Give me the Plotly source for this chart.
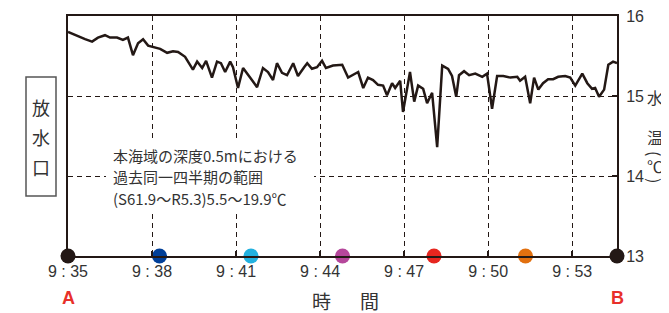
import plotly.graph_objects as go

# elapsed minutes from 9:35
minutes = [0, 0.32, 0.61, 0.86, 1.07, 1.32, 1.5, 1.75, 1.96, 2.14, 2.32, 2.5, 2.68, 2.86, 3.04,
           3.29, 3.54, 3.75, 3.93, 4.18, 4.46, 4.61, 4.79, 4.93, 5.14, 5.32, 5.46, 5.61, 5.79,
           5.89, 6.07, 6.25, 6.5, 6.75, 6.96, 7.14, 7.32, 7.46, 7.64, 7.82, 8.04, 8.21, 8.43,
           8.54, 8.71, 8.89, 9.07, 9.21, 9.46, 9.79, 10.0, 10.36, 10.54, 10.71, 10.89, 11.07,
           11.25, 11.39, 11.57, 11.68, 11.86, 11.96, 12.21, 12.36, 12.5, 12.68, 12.82, 13.0,
           13.18, 13.36, 13.57, 13.71, 13.86, 13.96, 14.14, 14.32, 14.54, 14.79, 14.96, 15.14,
           15.32, 15.54, 15.79, 16.04, 16.14, 16.32, 16.5, 16.64, 16.79, 16.96, 17.14, 17.32,
           17.5, 17.75, 17.93, 18.11, 18.36, 18.54, 18.71, 18.82, 18.96, 19.14, 19.29, 19.46, 19.6]
temperature = [15.80, 15.75, 15.71, 15.68, 15.73, 15.76, 15.73, 15.73, 15.70, 15.73, 15.51, 15.66,
               15.71, 15.63, 15.61, 15.59, 15.54, 15.56, 15.55, 15.49, 15.33, 15.43, 15.35, 15.44,
               15.23, 15.43, 15.41, 15.30, 15.43, 15.36, 15.10, 15.35, 15.23, 15.11, 15.35, 15.30,
               15.20, 15.41, 15.29, 15.26, 15.41, 15.25, 15.36, 15.41, 15.34, 15.36, 15.44, 15.35,
               15.38, 15.39, 15.23, 15.30, 15.10, 15.23, 15.20, 15.14, 15.13, 15.01, 15.16, 15.10,
               15.19, 14.80, 15.30, 14.93, 15.13, 15.09, 14.91, 15.04, 14.36, 15.38, 15.34, 15.25,
               14.99, 15.26, 15.31, 15.26, 15.28, 15.24, 15.28, 14.84, 15.25, 15.25, 15.23, 15.24,
               15.19, 15.24, 14.91, 15.23, 15.08, 15.16, 15.21, 15.21, 15.24, 15.25, 15.23, 15.13,
               15.28, 15.16, 15.09, 15.10, 14.99, 15.08, 15.39, 15.43, 15.41]

tick_minutes = [0, 3, 6, 9, 12, 15, 18]
tick_labels = ["9 : 35", "9 : 38", "9 : 41", "9 : 44", "9 : 47", "9 : 50", "9 : 53"]
y_ticks = [13, 14, 15, 16]

point_minutes = [0, 3.267, 6.533, 9.8, 13.067, 16.333, 19.6]
point_colors = ["#231815", "#003f98", "#22b1df", "#b5479b", "#e6261f", "#e2700f", "#231815"]

note_lines = ["本海域の深度0.5mにおける", "過去同一四半期の範囲", "(S61.9～R5.3)5.5～19.9℃"]

DARK = "#231815"
TXT = "#333333"
FONT = "Noto Sans CJK JP"

# page body has an 8px default margin: the figure is drawn offset by 8px
OFF = 8
L, R, T, B = 68, 617, 16, 256   # plot area in window pixels
W, H = 669 - OFF, 313 - OFF


def px(x):
    return (x - L) / (R - L)


def py(y):
    return (B - y) / (B - T)


fig = go.Figure()
fig.add_trace(go.Scatter(x=minutes, y=temperature, mode="lines",
                         line=dict(color=DARK, width=2.5), hoverinfo="skip"))
fig.add_trace(go.Scatter(x=point_minutes, y=[13] * len(point_minutes), mode="markers",
                         marker=dict(color=point_colors, size=15, line=dict(width=0)),
                         cliponaxis=False, hoverinfo="skip"))

fig.update_layout(
    width=W, height=H, showlegend=False,
    margin=dict(l=L - OFF, r=W - (R - OFF), t=T - OFF, b=H - (B - OFF), autoexpand=False),
    plot_bgcolor="white", paper_bgcolor="white",
    font=dict(family=FONT, color=TXT, size=15),
    xaxis=dict(range=[0, 19.6], tickvals=tick_minutes, ticktext=tick_labels,
               showgrid=True, gridcolor=DARK, gridwidth=1.2, griddash="5px,4px",
               showline=True, linecolor=DARK, linewidth=2, mirror=True,
               ticks="inside", ticklen=5, tickcolor=DARK, tickwidth=1.5,
               tickfont=dict(family="Liberation Sans, " + FONT, size=16, color=TXT),
               ticklabeloverflow="allow",
               zeroline=False, fixedrange=True, automargin=False),
    yaxis=dict(range=[13, 16], tickvals=y_ticks, side="right",
               showgrid=True, gridcolor=DARK, gridwidth=1.2, griddash="5px,4px",
               showline=True, linecolor=DARK, linewidth=2, mirror=True,
               ticks="inside", ticklen=5, tickcolor=DARK, tickwidth=1.5,
               tickfont=dict(family="Liberation Sans, " + FONT, size=16, color=TXT),
               ticklabeloverflow="allow", ticklabelstandoff=4,
               zeroline=False, fixedrange=True, automargin=False),
)

# white panel behind the note
fig.add_shape(type="rect", xref="paper", yref="paper", layer="above",
              x0=px(106), x1=px(314), y0=py(212), y1=py(140),
              fillcolor="white", line=dict(width=0))

for i, t in enumerate(note_lines):
    fig.add_annotation(xref="paper", yref="paper", x=px(111), y=py(155 + 21.5 * i),
                       text=t, showarrow=False, xanchor="left", yanchor="middle",
                       font=dict(family=FONT, size=15, color=TXT))

# left boxed label
fig.add_shape(type="rect", xref="paper", yref="paper",
              x0=px(26), x1=px(56), y0=py(196), y1=py(77),
              line=dict(color="#555555", width=1.5), fillcolor="white")
for i, ch in enumerate(["放", "水", "口"]):
    fig.add_annotation(xref="paper", yref="paper", x=px(41), y=py(107 + 30 * i),
                       text=ch, showarrow=False, xanchor="center", yanchor="middle",
                       font=dict(family=FONT, size=18, color=TXT))

# right axis title (vertical)
for ch, yy, ang in [("水", 97, 0), ("温", 137, 0), ("(", 153, 90), ("℃", 166, 0), (")", 180, 90)]:
    fig.add_annotation(xref="paper", yref="paper", x=px(655), y=py(yy),
                       text=ch, showarrow=False, xanchor="center", yanchor="middle",
                       textangle=ang,
                       font=dict(family=FONT, size=16, color=TXT))

# A / B labels
for ch, xx in [("A", 68), ("B", 617)]:
    fig.add_annotation(xref="paper", yref="paper", x=px(xx), y=py(298),
                       text="<b>%s</b>" % ch, showarrow=False, xanchor="center", yanchor="middle",
                       font=dict(family="Liberation Sans", size=18, color="#e8302a"))

# x axis title
for ch, xx in [("時", 321), ("間", 369)]:
    fig.add_annotation(xref="paper", yref="paper", x=px(xx), y=py(300),
                       text=ch, showarrow=False, xanchor="center", yanchor="middle",
                       font=dict(family=FONT, size=19, color=TXT))

fig.write_html("out.html")
